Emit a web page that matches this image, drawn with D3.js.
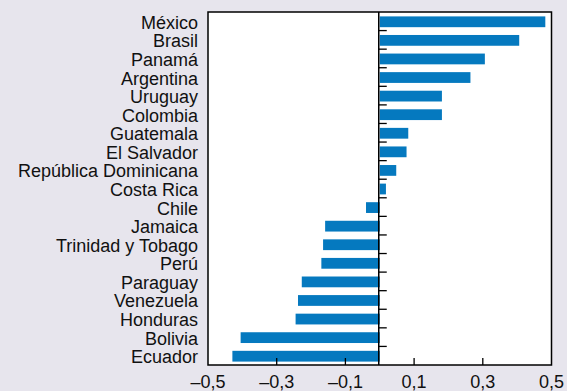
<!DOCTYPE html>
<html><head><meta charset="utf-8">
<script src="https://cdn.jsdelivr.net/npm/d3@7"></script>
<style>
html,body{margin:0;padding:0;background:#e7e5ed;}
svg{display:block;}
text{font-family:"Liberation Sans",Arial,sans-serif;fill:#111;}
</style></head>
<body>
<svg id="chart" width="567" height="391"></svg>
<script>
const countries = ["México","Brasil","Panamá","Argentina","Uruguay","Colombia","Guatemala","El Salvador","República Dominicana","Costa Rica","Chile","Jamaica","Trinidad y Tobago","Perú","Paraguay","Venezuela","Honduras","Bolivia","Ecuador"];
const values = [0.482,0.406,0.306,0.264,0.181,0.181,0.083,0.078,0.048,0.018,-0.040,-0.159,-0.165,-0.170,-0.227,-0.238,-0.245,-0.405,-0.429];
const tickValues = [-0.5,-0.3,-0.1,0.1,0.3,0.5];
const tickLabels = ["–0,5","–0,3","–0,1","0,1","0,3","0,5"];

const svg = d3.select("#chart");
const L = 208, R = 551.5, T = 12, B = 365;
const x = d3.scaleLinear().domain([-0.5,0.5]).range([L, R]);
const y = d3.scaleBand().domain(countries).range([T, B]).paddingInner(0.42).paddingOuter(0.21);
const yb = d3.scaleBand().domain(countries).range([T, B]);

svg.append("rect").attr("x",L).attr("y",T).attr("width",R-L).attr("height",B-T)
  .attr("fill","#fff");

svg.selectAll("rect.bar").data(countries).enter().append("rect")
  .attr("class","bar")
  .attr("x",(d,i)=>Math.min(x(0),x(values[i])))
  .attr("width",(d,i)=>Math.abs(x(values[i])-x(0)))
  .attr("y",d=>y(d)+0.5)
  .attr("height",y.bandwidth())
  .attr("fill","#0579bf");

// zero line
const x0 = x(0) - 1;
svg.append("line").attr("x1",x0).attr("x2",x0).attr("y1",T).attr("y2",B)
  .attr("stroke","#000").attr("stroke-width",1.5);
// category ticks on zero line
svg.selectAll("line.ct").data(countries.slice(1)).enter().append("line")
  .attr("x1",x0).attr("x2",x0+8)
  .attr("y1",d=>yb(d)).attr("y2",d=>yb(d))
  .attr("stroke","#000").attr("stroke-width",1.3);

// x ticks (inside, pointing up)
svg.selectAll("line.xt").data(tickValues.slice(1,-1)).enter().append("line")
  .attr("x1",d=>x(d)).attr("x2",d=>x(d)).attr("y1",B).attr("y2",B-7)
  .attr("stroke","#000").attr("stroke-width",1.3);

svg.selectAll("text.xl").data(tickValues).enter().append("text")
  .attr("x",d=>x(d)).attr("y",388)
  .attr("text-anchor","middle").attr("font-size",18)
  .text((d,i)=>tickLabels[i]);

svg.selectAll("text.yl").data(countries).enter().append("text")
  .attr("x",198).attr("y",d=>yb(d)+yb.bandwidth()/2+1)
  .attr("dy","0.36em")
  .attr("text-anchor","end").attr("font-size",18)
  .text(d=>d);

// frame
svg.append("rect").attr("x",L).attr("y",T).attr("width",R-L).attr("height",B-T)
  .attr("fill","none").attr("stroke","#000").attr("stroke-width",1.5);
</script>
</body></html>
